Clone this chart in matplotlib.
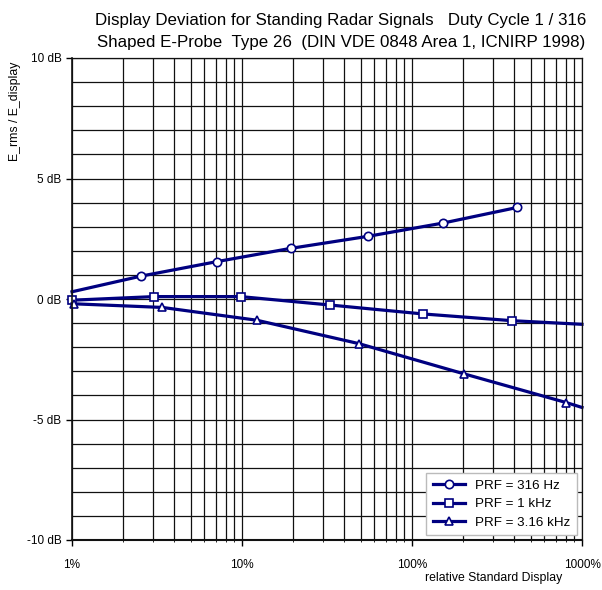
import matplotlib
matplotlib.use("Agg")
import matplotlib.pyplot as plt
from matplotlib.ticker import FixedLocator, LogLocator, NullFormatter

plt.rcParams['font.family'] = ['Liberation Sans', 'DejaVu Sans']

# relative standard display (%) vs. display deviation (dB)
x_316 = [1.0, 2.55, 7.1, 19.3, 55, 152, 417]
y_316 = [0.3, 0.95, 1.55, 2.1, 2.6, 3.15, 3.8]

x_1k = [1.0, 3.05, 9.8, 33, 116, 388, 1000]
y_1k = [-0.05, 0.1, 0.1, -0.25, -0.62, -0.9, -1.05]

x_3k = [1.0, 1.03, 3.4, 12.2, 48.6, 201, 810, 1000]
y_3k = [-0.2, -0.2, -0.35, -0.88, -1.85, -3.1, -4.3, -4.5]

labels = ['PRF = 316 Hz', 'PRF = 1 kHz', 'PRF = 3.16 kHz']
x_ticks = [1, 10, 100, 1000]
x_ticklabels = ['1%', '10%', '100%', '1000%']
y_ticks = [-10, -5, 0, 5, 10]
y_ticklabels = ['-10 dB', '-5 dB', '0 dB', '5 dB', '10 dB']

fig = plt.figure(figsize=(6.02, 5.90), dpi=100)
ax = fig.add_axes([72 / 602, 50 / 590, 510 / 602, 482 / 590])

ax.set_xscale('log')
ax.set_xlim(1, 1000)
ax.set_ylim(-10, 10)

# grid: every 1 dB and every log minor step
ax.yaxis.set_minor_locator(FixedLocator(range(-10, 11)))
ax.xaxis.set_minor_locator(LogLocator(base=10, subs=range(2, 10)))
ax.xaxis.set_minor_formatter(NullFormatter())
ax.grid(True, which='both', color='#111111', linewidth=0.9)
ax.set_axisbelow(True)

line_kw = dict(color='#000080', linewidth=2.3, markersize=6,
               markerfacecolor='white', markeredgecolor='#000080',
               markeredgewidth=1.2, clip_on=False)
ax.plot(x_316, y_316, marker='o', markevery=list(range(1, len(x_316))),
        label=labels[0], **line_kw)
ax.plot(x_1k, y_1k, marker='s', markevery=list(range(0, len(x_1k) - 1)),
        label=labels[1], **line_kw)
ax.plot(x_3k, y_3k, marker='^', markevery=list(range(1, len(x_3k) - 1)),
        label=labels[2], **line_kw)

ax.set_xticks(x_ticks)
ax.set_xticklabels(x_ticklabels)
ax.set_yticks(y_ticks)
ax.set_yticklabels(y_ticklabels)
ax.tick_params(axis='both', which='major', labelsize=8.5, length=4, width=1)
ax.tick_params(axis='x', which='major', pad=10)
ax.tick_params(axis='x', which='minor', length=3, direction='inout')
ax.tick_params(axis='y', which='minor', length=0)
for s in ax.spines.values():
    s.set_color('#111111')
    s.set_linewidth(0.9)
ax.spines['left'].set_linewidth(1.2)
ax.spines['bottom'].set_linewidth(1.5)

fig.text(341 / 602, 1 - 20 / 590, 'Display Deviation for Standing Radar Signals   Duty Cycle 1 / 316',
         ha='center', va='center', fontsize=12.2)
fig.text(341 / 602, 1 - 42 / 590, 'Shaped E-Probe  Type 26  (DIN VDE 0848 Area 1, ICNIRP 1998)',
         ha='center', va='center', fontsize=12.2)
fig.text(15 / 602, 1 - 62 / 590, 'E_rms / E_display', rotation=90,
         ha='center', va='top', fontsize=8.8)
fig.text(494 / 602, 1 - 578 / 590, 'relative Standard Display',
         ha='center', va='center', fontsize=8.8)

leg = ax.legend(loc='lower right', fontsize=9.6, frameon=True, fancybox=False,
                edgecolor='#bbbbbb', framealpha=1, handlelength=2.4,
                borderaxespad=0.35, labelspacing=0.45, borderpad=0.5)
leg.get_frame().set_linewidth(1)

fig.savefig('out.png', dpi=100)
